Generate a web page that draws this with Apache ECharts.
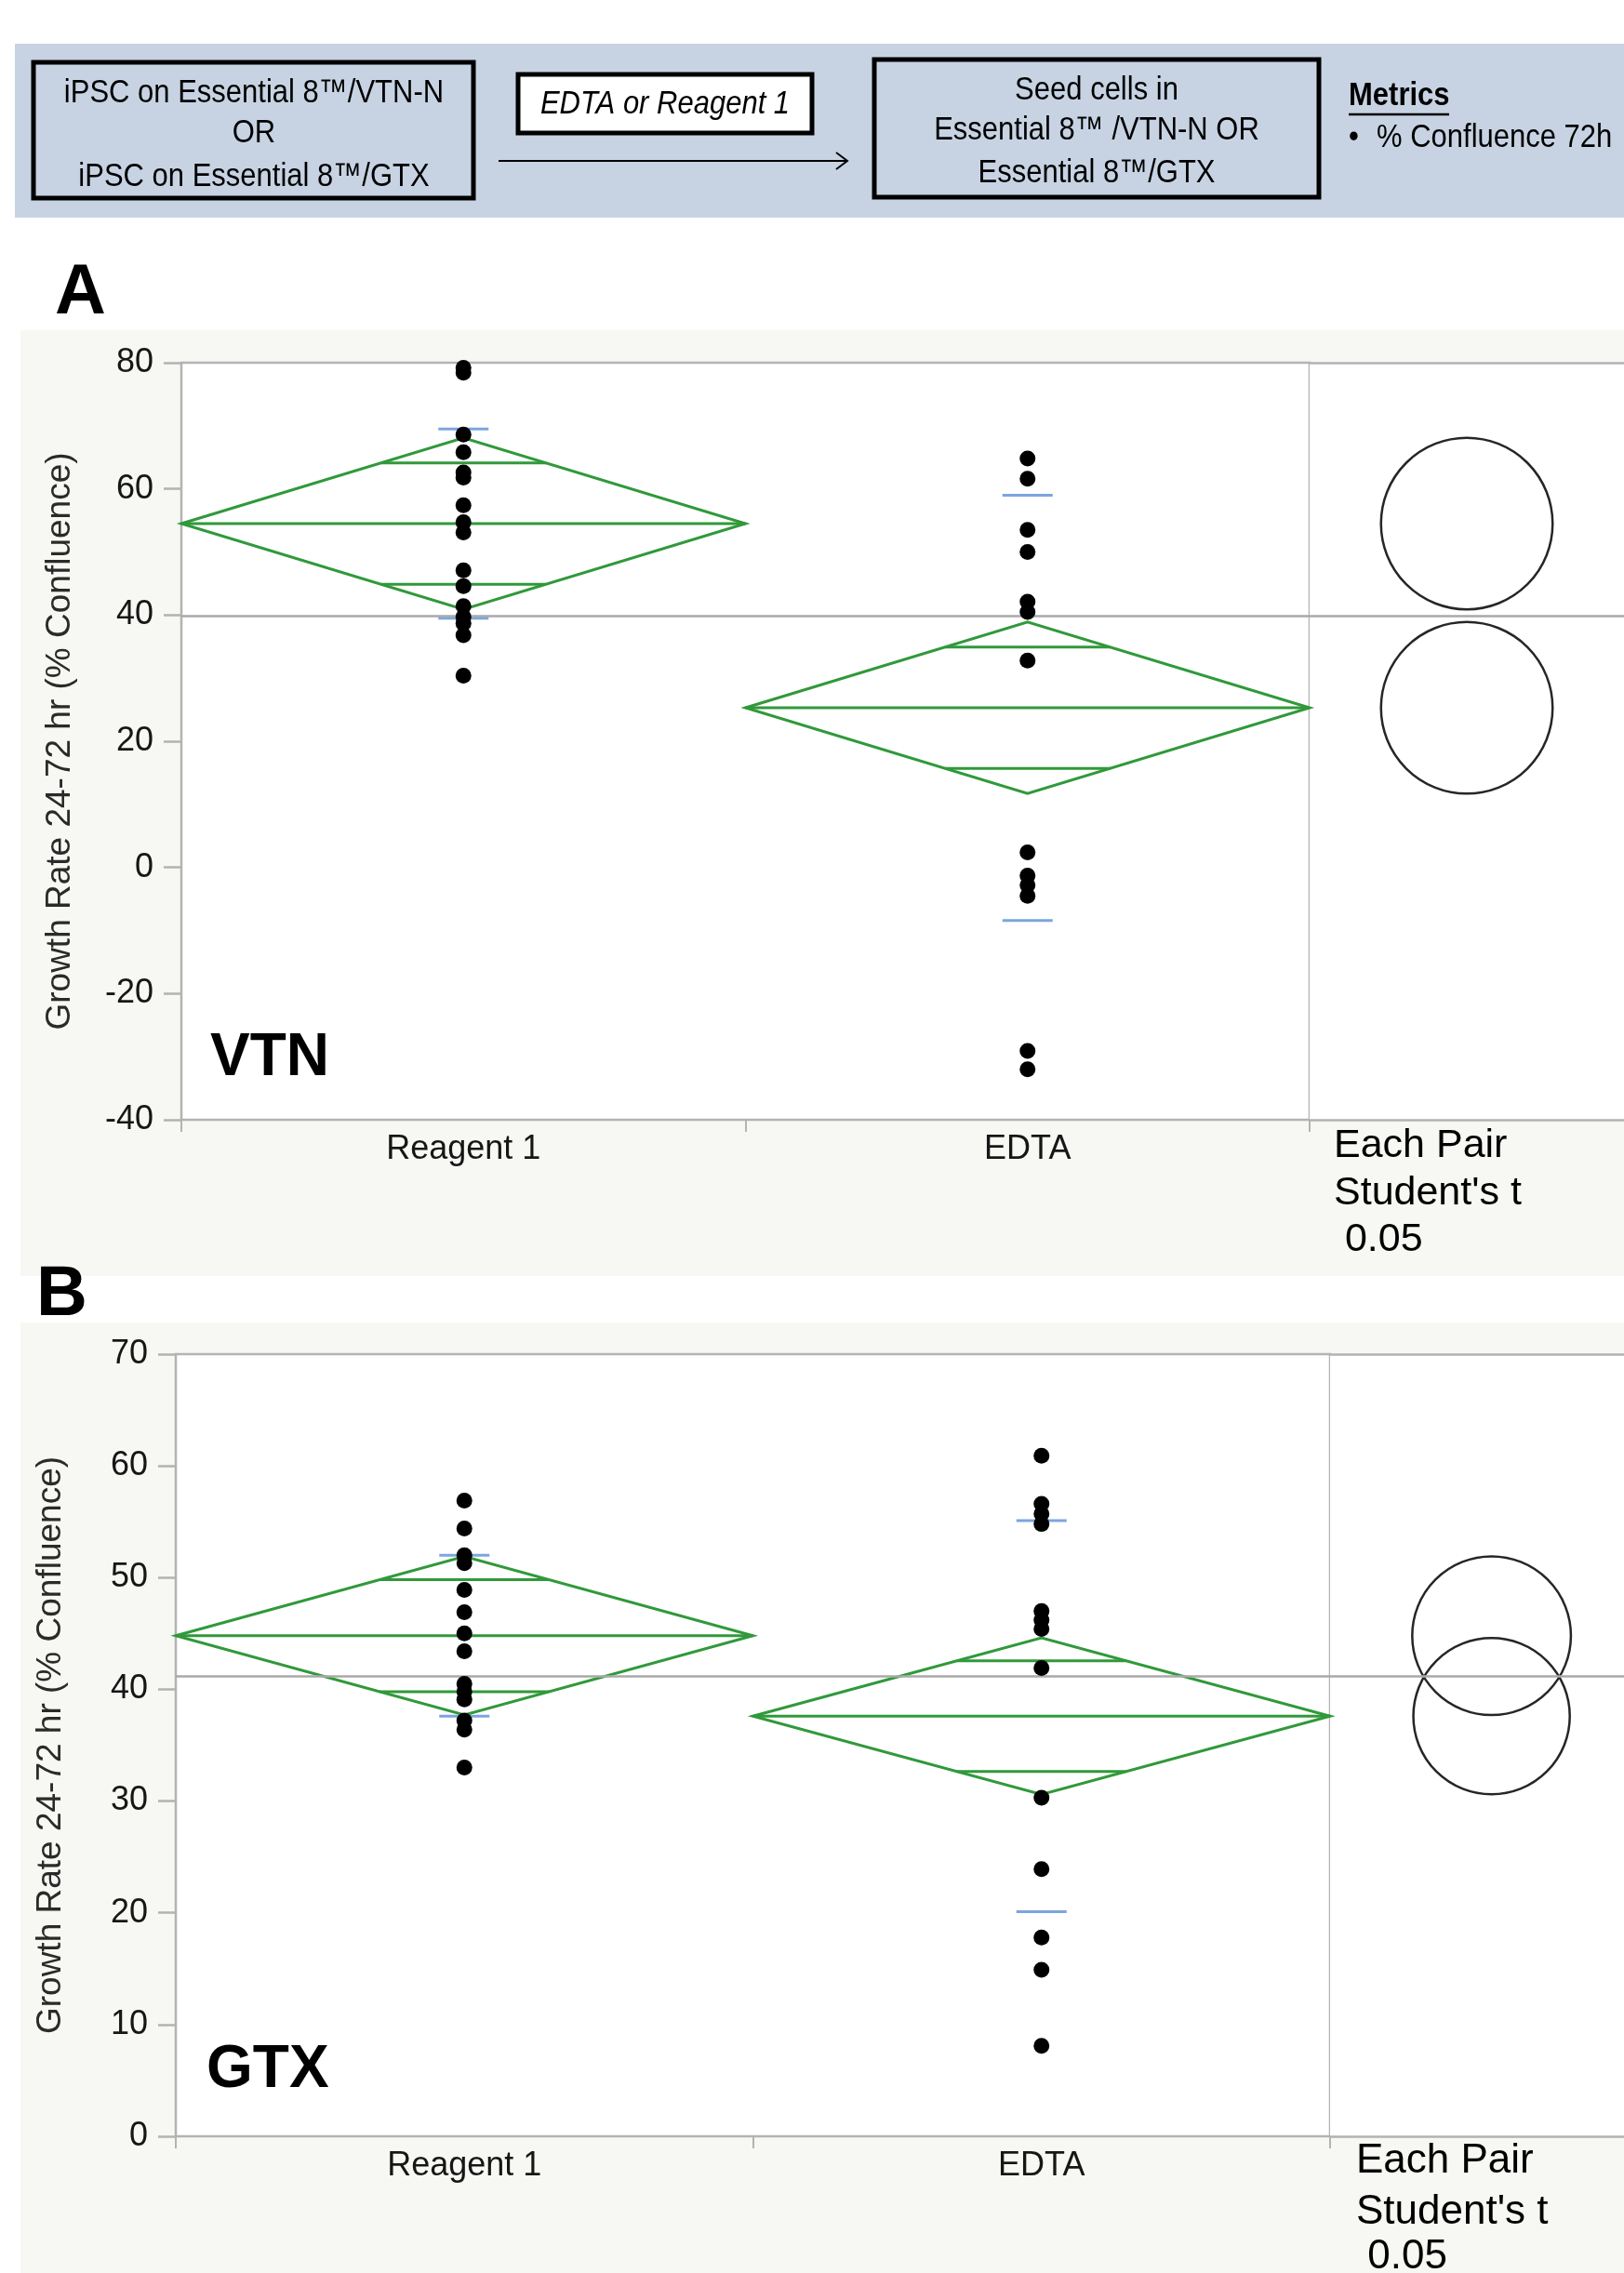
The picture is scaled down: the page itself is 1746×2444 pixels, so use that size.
<!DOCTYPE html>
<html><head><meta charset="utf-8">
<script src="https://cdn.jsdelivr.net/npm/echarts@6/dist/echarts.min.js"></script>
<style>html,body{margin:0;padding:0;background:#fff}#c{width:1746px;height:2444px}</style>
</head><body><div id="c"></div>
<script>
// ---------- data ----------
const categories = ['Reagent 1', 'EDTA'];

// Panel A (VTN)
const vtnReagent1 = [79.2, 78.4, 68.6, 65.8, 62.6, 61.8, 57.4, 54.7, 53.1, 47.1, 44.6, 41.4, 39.7, 38.7, 36.8, 30.4];
const vtnEDTA = [64.8, 61.6, 53.5, 50.0, 42.1, 40.5, 32.8, 2.4, -1.3, -2.8, -4.5, -29.1, -32.0];
const vtnMeans = [54.5, 25.3];
const vtnCI = [13.6, 13.6];
const vtnSD = [15.0, 33.7];
const vtnGrandMean = 39.8;
const vtnYTicks = [-40, -20, 0, 20, 40, 60, 80];

// Panel B (GTX)
const gtxReagent1 = [56.9, 54.4, 52.0, 51.3, 48.9, 46.9, 45.0, 43.4, 40.5, 39.8, 39.1, 37.2, 36.4, 33.0];
const gtxEDTA = [60.9, 56.6, 55.7, 54.8, 47.0, 46.2, 45.4, 41.9, 30.3, 23.9, 17.8, 14.9, 8.1];
const gtxMeans = [44.8, 37.6];
const gtxCI = [7.1, 7.0];
const gtxSD = [7.2, 17.5];
const gtxGrandMean = 41.2;
const gtxYTicks = [0, 10, 20, 30, 40, 50, 60, 70];

const yName = 'Growth Rate 24-72 hr (% Confluence)';

// ---------- styles ----------
const FONT = '"Liberation Sans", Arial, Helvetica, sans-serif';
const GREEN = '#30993a';
const BLUE = '#5b8ed6';
const FRAME = '#b3b3b3';
const INK = '#161616';

const panels = [
  {pts: [vtnReagent1, vtnEDTA], means: vtnMeans, ci: vtnCI, sd: vtnSD, gm: vtnGrandMean, ticks: vtnYTicks,
   main: {left: 195, top: 390, width: 1213, height: 814}, circ: {left: 1408, top: 390, right: 0, height: 814},
   circSpan: 1, nameGap: 112},
  {pts: [gtxReagent1, gtxEDTA], means: gtxMeans, ci: gtxCI, sd: gtxSD, gm: gtxGrandMean, ticks: gtxYTicks,
   main: {left: 189, top: 1456, width: 1241, height: 841}, circ: {left: 1430, top: 1456, right: 0, height: 841},
   circSpan: 0.91, nameGap: 116}
];

function diamondItem(params, api) {
  const i = api.value(0), m = api.value(1), c = api.value(2);
  const h = Math.SQRT1_2;
  const k = 0.5 * (1 - h);
  const L = api.coord([i, m]), R = api.coord([i + 1, m]);
  const T = api.coord([i + 0.5, m + c]), B = api.coord([i + 0.5, m - c]);
  const a1 = api.coord([i + 0.5 - k, m + c * h]), b1 = api.coord([i + 0.5 + k, m + c * h]);
  const a2 = api.coord([i + 0.5 - k, m - c * h]), b2 = api.coord([i + 0.5 + k, m - c * h]);
  const st = {stroke: GREEN, lineWidth: 3, fill: 'none'};
  const ln = (p, q) => ({type: 'line', shape: {x1: p[0], y1: p[1], x2: q[0], y2: q[1]}, style: st});
  return {type: 'group', children: [
    {type: 'polygon', shape: {points: [L, T, R, B]}, style: st},
    ln(L, R), ln(a1, b1), ln(a2, b2)
  ]};
}

function circleItem(params, api) {
  const m = api.value(1), c = api.value(2);
  const ctr = api.coord([0.5, m]);
  const r = api.size([0, c])[1];
  return {type: 'circle', shape: {cx: ctr[0], cy: ctr[1], r: r},
          style: {fill: 'none', stroke: '#262626', lineWidth: 2.5}};
}

const grid = [], xAxis = [], yAxis = [], series = [];
panels.forEach((p, k) => {
  const gMain = grid.length, gCirc = gMain + 1;
  grid.push(Object.assign({show: true, backgroundColor: '#fff', borderColor: FRAME, borderWidth: 2.5}, p.main));
  grid.push(Object.assign({show: true, backgroundColor: '#fff', borderWidth: 0}, p.circ));
  const xCat = xAxis.length, xVal = xCat + 1, xCirc = xCat + 2;
  xAxis.push({type: 'category', gridIndex: gMain, data: categories, boundaryGap: true,
    axisLine: {show: false, onZero: false}, splitLine: {show: false},
    axisTick: {show: true, length: 13, lineStyle: {color: FRAME, width: 2}},
    axisLabel: {fontFamily: FONT, fontSize: 36, color: INK, margin: 14}});
  xAxis.push({type: 'value', gridIndex: gMain, min: 0, max: categories.length, show: false});
  xAxis.push({type: 'value', gridIndex: gCirc, min: 0, max: p.circSpan, position: 'bottom',
    axisLine: {show: true, onZero: false, lineStyle: {color: FRAME, width: 2.5}},
    axisTick: {show: false}, axisLabel: {show: false}, splitLine: {show: false}});
  xAxis.push({type: 'value', gridIndex: gCirc, min: 0, max: p.circSpan, position: 'top',
    axisLine: {show: true, onZero: false, lineStyle: {color: FRAME, width: 2.5}},
    axisTick: {show: false}, axisLabel: {show: false}, splitLine: {show: false}});
  const yMain = yAxis.length, yCirc = yMain + 1;
  const ymin = p.ticks[0], ymax = p.ticks[p.ticks.length - 1], step = p.ticks[1] - p.ticks[0];
  yAxis.push({type: 'value', gridIndex: gMain, min: ymin, max: ymax, interval: step,
    name: yName, nameLocation: 'middle', nameGap: p.nameGap,
    nameTextStyle: {fontFamily: FONT, fontSize: 37, color: '#2a2a2a'},
    axisLine: {show: false}, splitLine: {show: false},
    axisTick: {show: true, length: 19, lineStyle: {color: FRAME, width: 2.5}},
    axisLabel: {fontFamily: FONT, fontSize: 36, color: INK, margin: 30}});
  yAxis.push({type: 'value', gridIndex: gCirc, min: ymin, max: ymax, interval: step, show: false});

  const gmLine = {silent: true, symbol: ['none', 'none'], label: {show: false},
    lineStyle: {color: '#a9a9a9', width: 2.5, type: 'solid'}, data: [{yAxis: p.gm}]};

  series.push({type: 'custom', xAxisIndex: xVal, yAxisIndex: yMain, renderItem: diamondItem,
    data: categories.map((c, i) => [i, p.means[i], p.ci[i]]), z: 3});
  const sdData = [];
  categories.forEach((c, i) => { sdData.push([c, p.means[i] + p.sd[i]]); sdData.push([c, p.means[i] - p.sd[i]]); });
  series.push({type: 'scatter', xAxisIndex: xCat, yAxisIndex: yMain, symbol: 'rect', symbolSize: [54, 3],
    itemStyle: {color: BLUE}, data: sdData, z: 4, silent: true});
  const ptData = [];
  categories.forEach((c, i) => p.pts[i].forEach(v => ptData.push([c, v])));
  series.push({type: 'scatter', xAxisIndex: xCat, yAxisIndex: yMain, symbol: 'circle', symbolSize: 17,
    itemStyle: {color: '#000', opacity: 1}, data: ptData, z: 5, silent: true, markLine: gmLine});
  series.push({type: 'custom', xAxisIndex: xCirc, yAxisIndex: yCirc, renderItem: circleItem,
    data: categories.map((c, i) => [i, p.means[i], p.ci[i]]), z: 3, markLine: gmLine});
});

// ---------- graphic (header, backgrounds, labels) ----------
function txt(text, x, y, font, align, sy) {
  const el = {type: 'text', z: 50, style: {text: text, x: x, y: y, font: font, fill: '#000',
    textAlign: align || 'center', textVerticalAlign: 'middle', align: align || 'center', verticalAlign: 'middle'}};
  if (sy) { el.scaleY = sy; el.originX = x; el.originY = y; }
  return el;
}
const hf = '31px ' + FONT;
const HS = 1.15;
const graphic = [
  {type: 'rect', z: -10, shape: {x: 16, y: 47, width: 1730, height: 187}, style: {fill: '#c7d3e3'}},
  {type: 'rect', z: -10, shape: {x: 22, y: 355, width: 1724, height: 1017}, style: {fill: '#f7f7f3'}},
  {type: 'rect', z: -10, shape: {x: 22, y: 1422, width: 1724, height: 1022}, style: {fill: '#f7f7f3'}},
  {type: 'rect', z: 40, shape: {x: 36, y: 67, width: 473, height: 146}, style: {fill: 'none', stroke: '#000', lineWidth: 5}},
  {type: 'rect', z: 40, shape: {x: 557, y: 80, width: 316, height: 63}, style: {fill: '#fff', stroke: '#000', lineWidth: 5}},
  {type: 'rect', z: 40, shape: {x: 940, y: 64, width: 478, height: 148}, style: {fill: 'none', stroke: '#000', lineWidth: 5}},
  {type: 'line', z: 40, shape: {x1: 536, y1: 173, x2: 911, y2: 173}, style: {stroke: '#000', lineWidth: 2}},
  {type: 'polyline', z: 40, shape: {points: [[899, 164], [911, 173], [899, 182]]}, style: {stroke: '#000', lineWidth: 2, fill: 'none'}},
  txt('iPSC on Essential 8™/VTN-N', 273, 100, hf, 'center', HS),
  txt('OR', 273, 143, hf, 'center', HS),
  txt('iPSC on Essential 8™/GTX', 273, 190, hf, 'center', HS),
  txt('EDTA or Reagent 1', 715, 112, 'italic ' + hf, 'center', HS),
  txt('Seed cells in', 1179, 97, hf, 'center', HS),
  txt('Essential 8™ /VTN-N OR', 1179, 140, hf, 'center', HS),
  txt('Essential 8™/GTX', 1179, 186, hf, 'center', HS),
  txt('Metrics', 1450, 103, 'bold ' + hf, 'left', HS),
  {type: 'line', z: 40, shape: {x1: 1450, y1: 123, x2: 1558, y2: 123}, style: {stroke: '#000', lineWidth: 2.5}},
  txt('•', 1450, 148, hf, 'left', HS),
  txt('% Confluence 72h', 1480, 148, hf, 'left', HS),
  txt('A', 59, 316, 'bold 76px ' + FONT, 'left'),
  txt('B', 39, 1393, 'bold 76px ' + FONT, 'left'),
  txt('VTN', 226, 1138, 'bold 64px ' + FONT, 'left'),
  txt('GTX', 222, 2226, 'bold 64px ' + FONT, 'left'),
  txt('Each Pair', 1434, 1232, '43px ' + FONT, 'left'),
  txt("Student's t", 1434, 1283, '43px ' + FONT, 'left'),
  txt(' 0.05', 1434, 1333, '43px ' + FONT, 'left'),
  txt('Each Pair', 1458, 2324, '44px ' + FONT, 'left'),
  txt("Student's t", 1458, 2379, '44px ' + FONT, 'left'),
  txt(' 0.05', 1458, 2427, '44px ' + FONT, 'left')
];

const chart = echarts.init(document.getElementById('c'), null, {renderer: 'canvas', width: 1746, height: 2444});
chart.setOption({
  backgroundColor: '#fff',
  animation: false,
  textStyle: {fontFamily: FONT},
  grid: grid, xAxis: xAxis, yAxis: yAxis, series: series, graphic: graphic
});
</script></body></html>
